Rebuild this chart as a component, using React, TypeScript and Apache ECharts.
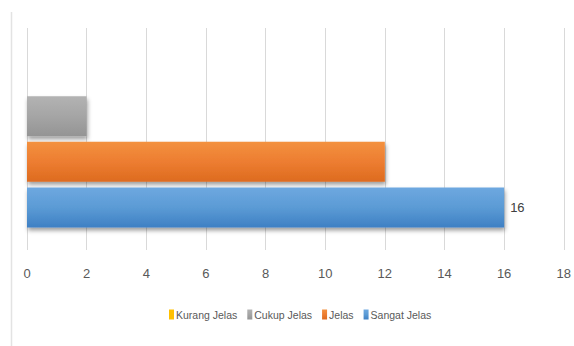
import React, { useEffect, useRef } from "react";
import * as echarts from "echarts";

const categories = [""];
const seriesNames = ["Kurang Jelas", "Cukup Jelas", "Jelas", "Sangat Jelas"];
const kurangJelas = [0];
const cukupJelas = [2];
const jelas = [12];
const sangatJelas = [16];
const xTicks = [0, 2, 4, 6, 8, 10, 12, 14, 16, 18];

const FONT = "'Liberation Sans', Arial, sans-serif";

const grad = (top: string, mid: string, bottom: string) =>
  new echarts.graphic.LinearGradient(0, 0, 0, 1, [
    { offset: 0, color: top },
    { offset: 0.5, color: mid },
    { offset: 1, color: bottom },
  ]);

export default function App() {
  const ref = useRef<HTMLDivElement>(null);

  useEffect(() => {
    if (!ref.current) return;
    const chart = echarts.init(ref.current, null, { renderer: "svg" });

    const barBase = {
      type: "bar" as const,
      barWidth: 40,
      barGap: "14%",
    };
    const shadow = {
      shadowColor: "rgba(0,0,0,0.38)",
      shadowBlur: 4,
      shadowOffsetX: 1,
      shadowOffsetY: 3,
    };

    chart.setOption({
      animation: false,
      backgroundColor: "#ffffff",
      textStyle: { fontFamily: FONT },
      grid: { left: 27, right: 8, top: 28, bottom: 96, containLabel: false },
      legend: {
        bottom: 21,
        left: 164,
        itemWidth: 5,
        itemHeight: 10,
        itemGap: 10,
        icon: "rect",
        data: seriesNames,
        textStyle: {
          fontFamily: FONT,
          fontSize: 10.5,
          color: "#595959",
          padding: [0, 0, 0, -3],
        },
      },
      xAxis: {
        type: "value",
        min: xTicks[0],
        max: xTicks[xTicks.length - 1],
        interval: 2,
        axisLine: { show: false },
        axisTick: { show: false },
        axisLabel: {
          color: "#595959",
          fontFamily: FONT,
          fontSize: 13,
          margin: 17,
        },
        splitLine: { lineStyle: { color: "#d9d9d9", width: 1 } },
      },
      yAxis: {
        type: "category",
        data: categories,
        axisLine: { show: false },
        axisTick: { show: false },
        axisLabel: { show: false },
        splitLine: { show: false },
      },
      graphic: [
        {
          type: "line",
          shape: { x1: 11.5, y1: 12, x2: 11.5, y2: 346 },
          style: { stroke: "#e3e3e3", lineWidth: 1.5 },
          silent: true,
        },
      ],
      series: [
        {
          ...barBase,
          name: seriesNames[0],
          data: kurangJelas,
          itemStyle: { color: "#ffc000", ...shadow },
        },
        {
          ...barBase,
          name: seriesNames[1],
          data: cukupJelas,
          itemStyle: { color: grad("#b3b3b3", "#a5a5a5", "#949494"), ...shadow },
        },
        {
          ...barBase,
          name: seriesNames[2],
          data: jelas,
          itemStyle: { color: grad("#f3913f", "#ed7d31", "#dd6b1f"), ...shadow },
        },
        {
          ...barBase,
          name: seriesNames[3],
          data: sangatJelas,
          itemStyle: { color: grad("#6ea8e0", "#5b9bd5", "#3f80c4"), ...shadow },
          label: {
            show: true,
            position: "right",
            distance: 6,
            color: "#404040",
            fontFamily: FONT,
            fontSize: 13,
          },
        },
      ],
    });

    return () => chart.dispose();
  }, []);

  return (
    <div
      ref={ref}
      style={{ position: "fixed", left: 0, top: 0, width: 574, height: 346 }}
    />
  );
}
